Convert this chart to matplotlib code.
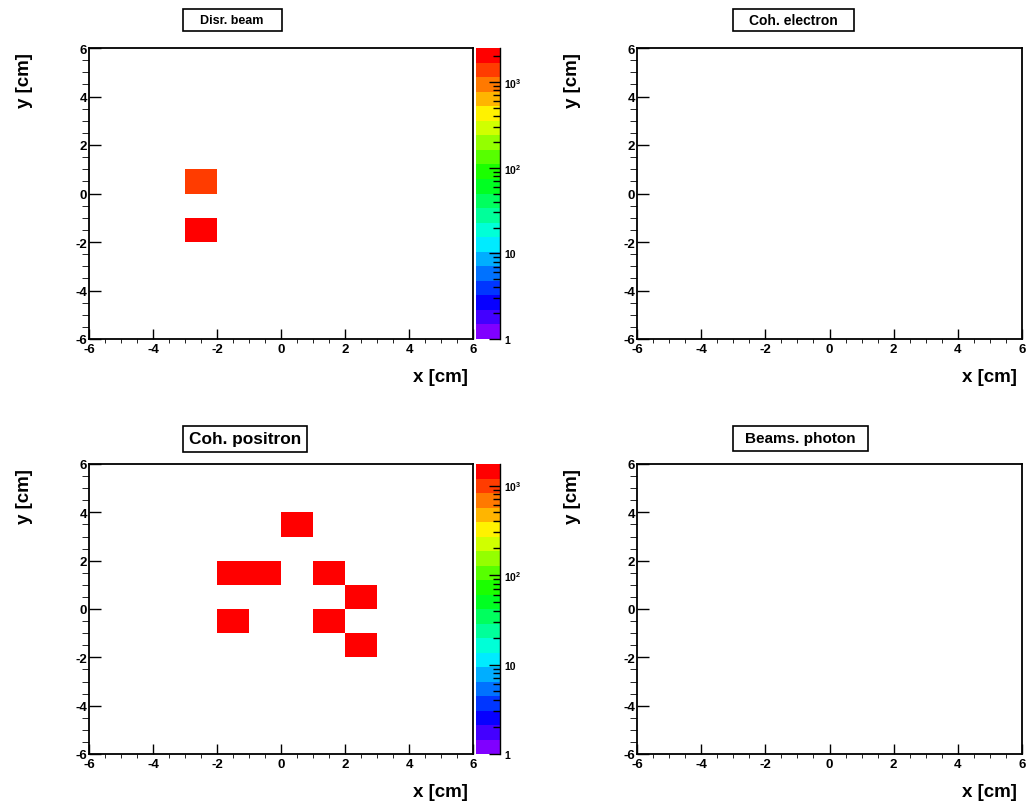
import numpy as np
import matplotlib
matplotlib.use('Agg')
import matplotlib.pyplot as plt
from matplotlib.colors import LogNorm, ListedColormap, hsv_to_rgb
from matplotlib.patches import Rectangle
from matplotlib.ticker import MultipleLocator, FixedLocator, LogLocator, NullFormatter

plt.rcParams.update({'font.family': 'Liberation Sans', 'font.weight': 'bold',
                     'axes.labelweight': 'bold', 'axes.unicode_minus': False,
                     'mathtext.fontset': 'custom',
                     'mathtext.rm': 'Liberation Sans:bold',
                     'mathtext.bf': 'Liberation Sans:bold',
                     'mathtext.default': 'rm'})

W, H = 1031, 803
EDGES = np.arange(-6, 7, 1)

# filled cells: bin centres (cm) and counts
disr_x = [-2.5, -2.5]
disr_y = [0.5, -1.5]
disr_n = [1400, 2500]

pos_x = [0.5, -1.5, -0.5, 1.5, 2.5, -1.5, 1.5, 2.5]
pos_y = [3.5, 1.5, 1.5, 1.5, 0.5, -0.5, -0.5, -1.5]
pos_n = [1450, 1600, 1380, 1520, 1740, 1330, 1480, 1290]

cbar_ticks = [1, 10, 100, 1000]
cbar_labels = ['1', '10', r'$10^{2}$', r'$10^{3}$']

# 20-level rainbow, violet -> red
hues = np.linspace(270, 0, 20) / 360.0
PALETTE = ListedColormap(hsv_to_rgb(np.column_stack([hues, np.ones(20), np.ones(20)])))

fig = plt.figure(figsize=(W / 100, H / 100), dpi=100)


def title_box(text, cx, cy, w, h, fs):
    fig.add_artist(Rectangle(((cx - w / 2) / W, 1 - (cy + h / 2) / H), w / W, h / H,
                             transform=fig.transFigure, facecolor='white',
                             edgecolor='black', lw=1.2))
    fig.text(cx / W, 1 - cy / H, text, ha='center', va='center', fontsize=fs,
             fontweight='bold')


def panel(box, x=None, y=None, n=None):
    l, t, r, b = box
    ax = fig.add_axes([l / W, 1 - b / H, (r - l) / W, (b - t) / H])
    ax.set_xlim(-6, 6); ax.set_ylim(-6, 6)
    ax.xaxis.set_major_locator(MultipleLocator(2))
    ax.yaxis.set_major_locator(MultipleLocator(2))
    ax.xaxis.set_minor_locator(MultipleLocator(0.5))
    ax.yaxis.set_minor_locator(MultipleLocator(0.5))
    ax.tick_params(direction='in', labelsize=9.5, width=1.0)
    ax.tick_params(axis='x', which='major', length=7, pad=3)
    ax.tick_params(axis='x', which='minor', length=3)
    ax.tick_params(axis='y', which='major', length=8.6, pad=1.5)
    ax.tick_params(axis='y', which='minor', length=5)
    for s in ax.spines.values():
        s.set_linewidth(1.3)
    ax.set_xlabel('x [cm]', loc='right', fontsize=13.5, fontweight='bold')
    ax.set_ylabel('y [cm]', loc='top', fontsize=13.5, fontweight='bold')
    ax.xaxis.set_label_coords(0.987, -0.1)
    ax.yaxis.set_label_coords(-0.146, 0.986)

    if x is not None:
        h, _, _ = np.histogram2d(x, y, bins=[EDGES, EDGES], weights=n)
        h = np.ma.masked_equal(h, 0)
        mesh = ax.pcolormesh(EDGES, EDGES, h.T, cmap=PALETTE,
                             norm=LogNorm(1, h.max()))
        cax = fig.add_axes([476 / W, 1 - b / H, 24 / W, (b - t) / H])
        cb = fig.colorbar(mesh, cax=cax)
        cb.outline.set_visible(False)
        cax.plot([1, 1], [0, 1], transform=cax.transAxes, color='black', lw=1.0,
                 clip_on=False)
        cax.yaxis.set_major_locator(FixedLocator(cbar_ticks))
        cax.yaxis.set_ticklabels(cbar_labels)
        cax.yaxis.set_minor_locator(LogLocator(subs=np.arange(2, 10)))
        cax.yaxis.set_minor_formatter(NullFormatter())
        cax.tick_params(which='both', direction='in', left=False, right=True,
                        labelsize=7.5, width=1.0, pad=3)
        cax.tick_params(which='major', length=8)
        cax.tick_params(which='minor', length=5)
    return ax


panel((89, 49, 473, 340), disr_x, disr_y, disr_n)
panel((637, 49, 1022, 340))
panel((89, 465, 473, 755), pos_x, pos_y, pos_n)
panel((637, 465, 1022, 755))

title_box('Disr. beam', 232, 21, 99, 22, 9)
title_box('Coh. electron', 793, 21, 121, 22, 10)
title_box('Coh. positron', 245, 440, 124, 26, 12.4)
title_box('Beams. photon', 800, 439.5, 135, 25, 11)

fig.savefig('out.png', dpi=100)
